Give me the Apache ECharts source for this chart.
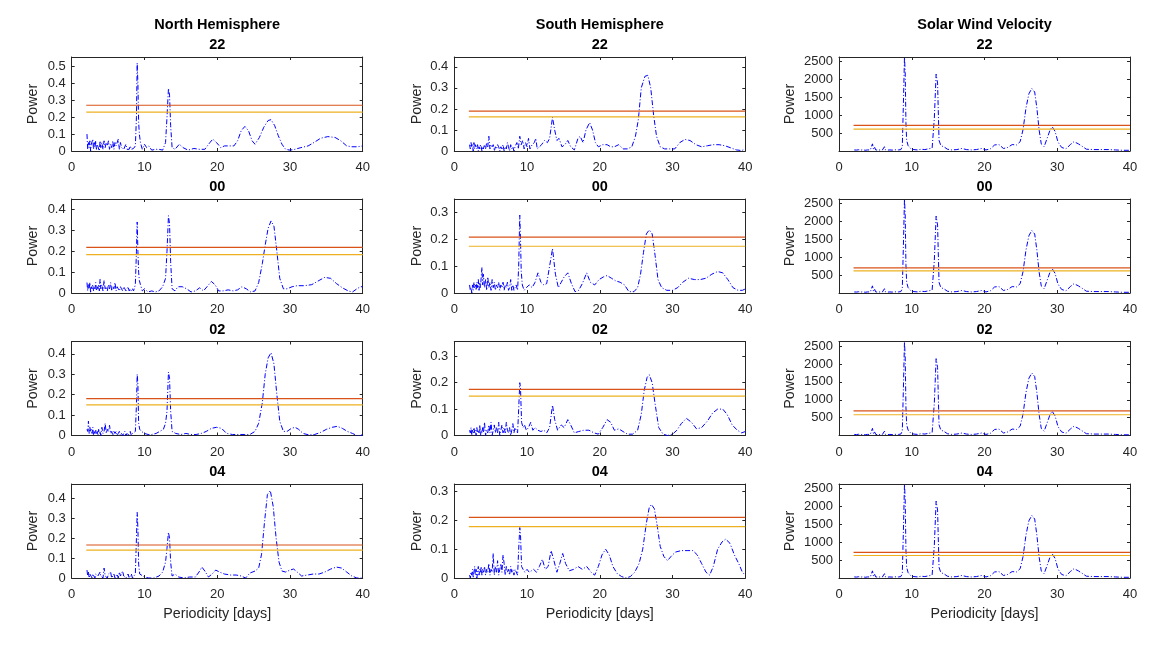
<!DOCTYPE html>
<html>
<head>
<meta charset="utf-8">
<script src="https://cdn.jsdelivr.net/npm/echarts@6/dist/echarts.min.js"></script>
<style>
  html, body { margin: 0; background: #fff; }
  #chart { width: 1173px; height: 650px; }
</style>
</head>
<body>
<div id="chart"></div>
<script>
// periods for the dense short-period part of every periodogram
const noisePeriods = [2.1, 2.2, 2.3, 2.4, 2.5, 2.6, 2.7, 2.8, 2.9, 3.0, 3.1, 3.2, 3.3, 3.4, 3.5, 3.6, 3.7, 3.8, 3.9, 4.0,
  4.15, 4.3, 4.45, 4.6, 4.75, 4.9, 5.05, 5.2, 5.35, 5.5, 5.65, 5.8, 5.95, 6.1, 6.25, 6.4, 6.55, 6.7, 6.85, 7.0,
  7.15, 7.3, 7.45, 7.6, 7.75, 7.9, 8.05, 8.2, 8.35];

const rowTitles = ['22', '00', '02', '04'];
const columnTitles = ['North Hemisphere', 'South Hemisphere', 'Solar Wind Velocity'];

// North hemisphere
const northNoise22 = [0.10,0.01,0.05,0.02,0.06,0.00,0.04,0.03,0.07,0.01,0.05,0.02,0.06,0.01,0.04,0.03,0.05,0.00,0.06,0.02,
  0.05,0.01,0.06,0.02,0.05,0.03,0.06,0.01,0.04,0.02,0.06,0.01,0.05,0.03,0.02,0.07,0.01,0.05,0.02,0.03,
  0.01,0.02,0.04,0.01,0.02,0.01,0.03,0.01,0.02];
const northTail22 = [[8.5,0.015],[8.75,0.03],[8.9,0.2],[9.0,0.52],[9.1,0.4],[9.2,0.17],[9.3,0.1],[9.45,0.05],[9.7,0.01],[10.0,0.04],
  [10.3,0.02],[10.6,0.03],[11,0.005],[11.5,0.01],[12,0.01],[12.5,0.005],[12.9,0.05],[13.1,0.2],[13.3,0.37],[13.45,0.33],
  [13.6,0.15],[13.8,0.02],[14.2,0.01],[14.8,0.04],[15.3,0.02],[16,0.005],[16.8,0.015],[17.5,0.01],[18.3,0.01],[19,0.05],
  [19.4,0.07],[19.9,0.05],[20.5,0.02],[21,0.03],[21.6,0.03],[22.3,0.03],[22.8,0.06],[23.3,0.12],[23.8,0.145],[24.3,0.12],
  [24.8,0.06],[25.2,0.04],[25.8,0.08],[26.4,0.14],[27.0,0.18],[27.4,0.185],[27.9,0.15],[28.4,0.09],[28.9,0.04],[29.4,0.01],
  [30,0.005],[30.7,0.01],[31.5,0.02],[32.5,0.03],[33.3,0.05],[34.2,0.075],[35.2,0.085],[36.2,0.08],[37,0.06],[37.8,0.03],
  [38.5,0.025],[39.3,0.025],[40,0.03]];
const northNoise00 = [0.05,0.01,0.04,0.02,0.05,0.00,0.03,0.02,0.04,0.01,0.03,0.02,0.05,0.01,0.03,0.02,0.04,0.01,0.065,0.02,
  0.04,0.01,0.06,0.02,0.03,0.01,0.04,0.02,0.05,0.01,0.03,0.02,0.05,0.01,0.03,0.02,0.01,0.03,0.02,0.01,
  0.03,0.02,0.01,0.02,0.03,0.01,0.02,0.01,0.02];
const northTail00 = [[8.5,0.01],[8.75,0.04],[8.9,0.2],[9.0,0.34],[9.1,0.2],[9.2,0.1],[9.3,0.06],[9.45,0.04],[9.7,0.01],[10.0,0.02],
  [10.5,0.005],[11,0.01],[11.5,0.005],[12,0.01],[12.5,0.03],[12.9,0.07],[13.1,0.2],[13.3,0.37],[13.45,0.33],[13.6,0.15],
  [13.8,0.02],[14.2,0.01],[14.6,0.03],[15.2,0.03],[15.8,0.02],[16.4,0.005],[17.0,0.01],[17.6,0.025],[18.1,0.01],[18.6,0.03],
  [19.2,0.055],[19.7,0.04],[20.2,0.01],[20.8,0.01],[21.5,0.015],[22.2,0.01],[22.8,0.015],[23.4,0.03],[24.0,0.02],[24.6,0.005],
  [25.2,0.01],[25.7,0.05],[26.2,0.14],[26.6,0.23],[27.0,0.31],[27.4,0.345],[27.8,0.32],[28.2,0.2],[28.6,0.07],[29.1,0.02],
  [29.6,0.02],[30.3,0.03],[31.0,0.035],[32.0,0.035],[33.0,0.04],[34.0,0.06],[34.8,0.075],[35.6,0.07],[36.4,0.045],[37.2,0.025],
  [38.0,0.01],[38.6,0.005],[39.2,0.02],[39.7,0.03],[40,0.03]];
const northNoise02 = [0.03,0.02,0.07,0.01,0.04,0.02,0.03,0.01,0.04,0.00,0.02,0.01,0.03,0.01,0.02,0.00,0.03,0.01,0.02,0.00,
  0.04,0.01,0.02,0.06,0.01,0.03,0.02,0.05,0.01,0.02,0.00,0.02,0.01,0.02,0.00,0.01,0.02,0.00,0.01,0.00,
  0.01,0.02,0.00,0.01,0.00,0.01,0.02,0.00,0.01];
const northTail02 = [[8.5,0.01],[8.75,0.02],[8.9,0.15],[9.0,0.3],[9.1,0.25],[9.2,0.06],[9.35,0.03],[9.6,0.02],[10.0,0.01],[10.5,0.005],
  [11.0,0.005],[11.6,0.01],[12.1,0.02],[12.6,0.03],[12.9,0.06],[13.1,0.12],[13.3,0.31],[13.45,0.28],[13.6,0.12],[13.8,0.02],
  [14.3,0.01],[15.0,0.005],[15.7,0.01],[16.4,0.005],[17.1,0.005],[17.8,0.01],[18.5,0.02],[19.2,0.035],[19.9,0.04],[20.6,0.035],
  [21.3,0.01],[22.1,0.005],[22.9,0.005],[23.7,0.005],[24.5,0.005],[25.2,0.02],[25.7,0.06],[26.2,0.16],[26.6,0.3],[27.0,0.38],
  [27.4,0.405],[27.8,0.35],[28.2,0.2],[28.6,0.07],[29.1,0.02],[29.6,0.02],[30.2,0.035],[30.7,0.04],[31.2,0.03],[31.8,0.01],
  [32.6,0.003],[33.4,0.005],[34.2,0.015],[35.0,0.03],[35.8,0.04],[36.5,0.045],[37.2,0.035],[37.9,0.02],[38.6,0.01],[39.2,0.0],
  [39.7,0.0],[40,0.005]];
const northNoise04 = [0.04,0.01,0.03,0.00,0.02,0.01,0.03,0.00,0.02,0.01,0.03,0.00,0.02,0.01,0.03,0.01,0.02,0.00,0.03,0.01,
  0.02,0.00,0.05,0.01,0.02,0.00,0.02,0.01,0.03,0.00,0.01,0.02,0.00,0.01,0.02,0.00,0.03,0.01,0.02,0.035,
  0.01,0.02,0.00,0.01,0.02,0.00,0.01,0.02,0.00];
const northTail04 = [[8.5,0.01],[8.75,0.02],[8.9,0.2],[9.0,0.33],[9.1,0.25],[9.2,0.07],[9.35,0.02],[9.6,0.01],[10.0,0.005],[10.6,0.0],
  [11.3,0.0],[12.0,0.01],[12.5,0.03],[12.9,0.08],[13.1,0.15],[13.3,0.23],[13.45,0.2],[13.6,0.08],[13.8,0.01],[14.2,0.02],
  [14.7,0.005],[15.4,0.0],[16.2,0.005],[17.0,0.005],[17.5,0.03],[17.9,0.055],[18.3,0.035],[18.8,0.005],[19.3,0.02],[19.8,0.04],
  [20.3,0.03],[21.0,0.02],[21.8,0.015],[22.6,0.015],[23.3,0.01],[23.9,0.0],[24.5,0.025],[25.2,0.035],[25.7,0.05],[26.1,0.12],
  [26.5,0.28],[26.9,0.42],[27.3,0.44],[27.7,0.36],[28.1,0.2],[28.5,0.08],[28.9,0.035],[29.4,0.03],[30.0,0.04],[30.5,0.045],
  [31.0,0.03],[31.6,0.01],[32.4,0.015],[33.2,0.02],[34.0,0.02],[34.8,0.03],[35.6,0.045],[36.4,0.055],[37.1,0.05],[37.8,0.03],
  [38.5,0.01],[39.2,0.0],[39.7,0.0],[40,0.0]];

// South hemisphere
const southNoise22 = [0.03,0.01,0.04,0.02,0.03,0.00,0.04,0.01,0.03,0.02,0.01,0.03,0.00,0.02,0.01,0.03,0.02,0.00,0.02,0.01,
  0.03,0.01,0.04,0.02,0.07,0.01,0.03,0.02,0.03,0.00,0.02,0.01,0.03,0.02,0.00,0.02,0.01,0.03,0.00,0.02,
  0.01,0.04,0.02,0.00,0.03,0.01,0.02,0.00,0.02];
const southTail22 = [[8.6,0.04],[8.8,0.01],[9.0,0.07],[9.2,0.03],[9.4,0.05],[9.6,0.01],[9.8,0.04],[10.0,0.02],[10.2,0.06],[10.4,0.01],
  [10.7,0.03],[11.0,0.04],[11.2,0.06],[11.4,0.01],[11.7,0.02],[12.0,0.03],[12.4,0.05],[12.8,0.04],[13.1,0.06],[13.5,0.16],
  [13.8,0.1],[14.1,0.05],[14.4,0.06],[14.8,0.02],[15.2,0.03],[15.6,0.05],[16.0,0.02],[16.5,0.005],[17.0,0.06],[17.3,0.07],
  [17.7,0.04],[18.1,0.1],[18.6,0.135],[19.0,0.1],[19.4,0.04],[19.8,0.02],[20.4,0.03],[21.0,0.03],[21.5,0.02],[22.0,0.02],
  [22.6,0.03],[23.2,0.01],[23.8,0.01],[24.4,0.02],[24.9,0.07],[25.3,0.15],[25.7,0.3],[26.2,0.355],[26.6,0.36],[27.0,0.3],
  [27.4,0.17],[27.8,0.07],[28.3,0.02],[28.9,0.01],[29.6,0.01],[30.3,0.01],[31.0,0.04],[31.7,0.055],[32.4,0.05],[33.2,0.03],
  [34.0,0.02],[34.8,0.025],[35.6,0.03],[36.4,0.03],[37.2,0.025],[38.0,0.015],[38.8,0.005],[39.5,0.002],[40,0.01]];
const southNoise00 = [0.03,0.01,0.02,0.00,0.03,0.01,0.04,0.02,0.03,0.01,0.04,0.02,0.05,0.01,0.04,0.02,0.06,0.095,0.03,0.07,
  0.02,0.05,0.01,0.06,0.02,0.04,0.01,0.05,0.02,0.04,0.01,0.03,0.02,0.04,0.01,0.03,0.02,0.04,0.01,0.03,
  0.02,0.04,0.01,0.02,0.05,0.01,0.03,0.01,0.02];
const southTail00 = [[8.5,0.03],[8.7,0.01],[8.85,0.1],[9.0,0.29],[9.1,0.2],[9.2,0.08],[9.35,0.03],[9.6,0.01],[9.9,0.02],[10.3,0.03],
  [10.7,0.02],[11.1,0.04],[11.5,0.075],[11.9,0.04],[12.3,0.03],[12.7,0.035],[13.1,0.1],[13.5,0.165],[13.9,0.07],[14.3,0.02],
  [14.7,0.04],[15.1,0.06],[15.6,0.075],[16.1,0.035],[16.6,0.005],[17.1,0.01],[17.6,0.035],[18.2,0.075],[18.7,0.04],[19.3,0.03],
  [19.9,0.05],[20.5,0.06],[21.0,0.065],[21.6,0.055],[22.2,0.045],[22.8,0.04],[23.4,0.03],[24.0,0.005],[24.7,0.005],[25.2,0.02],
  [25.6,0.07],[26.0,0.15],[26.4,0.22],[26.8,0.235],[27.2,0.22],[27.6,0.14],[28.0,0.05],[28.5,0.02],[29.2,0.01],[30.0,0.01],
  [30.7,0.02],[31.4,0.04],[32.2,0.055],[33.0,0.05],[33.8,0.05],[34.6,0.055],[35.4,0.07],[36.2,0.08],[36.9,0.075],[37.6,0.05],
  [38.3,0.02],[39.0,0.01],[39.6,0.01],[40,0.015]];
const southNoise02 = [0.02,0.01,0.03,0.00,0.02,0.01,0.03,0.01,0.02,0.00,0.03,0.01,0.02,0.01,0.04,0.00,0.02,0.01,0.03,0.01,
  0.05,0.00,0.02,0.01,0.04,0.01,0.05,0.00,0.02,0.04,0.01,0.03,0.01,0.05,0.00,0.02,0.04,0.01,0.03,0.01,
  0.05,0.02,0.01,0.03,0.00,0.02,0.045,0.01,0.03];
const southTail02 = [[8.5,0.02],[8.7,0.01],[8.85,0.1],[9.0,0.2],[9.1,0.18],[9.25,0.05],[9.45,0.03],[9.65,0.04],[9.9,0.02],[10.2,0.03],
  [10.5,0.05],[10.8,0.02],[11.1,0.03],[11.5,0.02],[11.9,0.015],[12.3,0.02],[12.7,0.01],[13.1,0.03],[13.5,0.115],[13.8,0.06],
  [14.2,0.02],[14.7,0.04],[15.1,0.03],[15.6,0.06],[16.0,0.04],[16.5,0.01],[17.1,0.015],[17.8,0.02],[18.5,0.02],[19.2,0.01],
  [19.8,0.005],[20.4,0.03],[21.0,0.06],[21.5,0.05],[22.0,0.02],[22.6,0.025],[23.2,0.015],[23.8,0.005],[24.5,0.005],[25.2,0.02],
  [25.7,0.08],[26.1,0.17],[26.5,0.22],[26.8,0.23],[27.2,0.2],[27.6,0.12],[28.1,0.03],[28.7,0.005],[29.3,0.0],[30.0,0.005],
  [30.6,0.02],[31.2,0.045],[31.9,0.065],[32.6,0.05],[33.3,0.025],[34.0,0.03],[34.8,0.055],[35.5,0.085],[36.2,0.1],[36.9,0.1],
  [37.5,0.08],[38.2,0.04],[38.9,0.02],[39.5,0.01],[40,0.015]];
const southNoise04 = [0.01,0.00,0.02,0.01,0.03,0.00,0.02,0.04,0.01,0.03,0.00,0.02,0.04,0.01,0.03,0.02,0.04,0.01,0.03,0.02,
  0.04,0.01,0.03,0.02,0.05,0.01,0.03,0.02,0.085,0.01,0.04,0.02,0.06,0.01,0.03,0.05,0.02,0.08,0.05,0.01,
  0.04,0.02,0.03,0.01,0.04,0.02,0.03,0.01,0.03];
const southTail04 = [[8.5,0.03],[8.7,0.01],[8.85,0.1],[9.0,0.175],[9.1,0.15],[9.25,0.04],[9.45,0.03],[9.7,0.02],[10.0,0.03],[10.3,0.02],
  [10.6,0.025],[10.9,0.03],[11.3,0.02],[11.7,0.04],[12.1,0.065],[12.5,0.03],[12.9,0.04],[13.3,0.095],[13.7,0.06],[14.1,0.02],
  [14.5,0.05],[14.9,0.085],[15.3,0.05],[15.8,0.025],[16.4,0.03],[17.0,0.04],[17.6,0.03],[18.2,0.04],[18.8,0.02],[19.3,0.01],
  [19.8,0.04],[20.3,0.08],[20.8,0.1],[21.3,0.08],[21.8,0.04],[22.4,0.015],[23.0,0.005],[23.6,0.0],[24.2,0.005],[24.8,0.02],
  [25.4,0.05],[25.9,0.1],[26.4,0.19],[26.8,0.245],[27.1,0.255],[27.5,0.24],[27.9,0.18],[28.3,0.11],[28.8,0.075],[29.3,0.06],
  [29.8,0.075],[30.4,0.09],[31.2,0.095],[32.0,0.095],[32.8,0.095],[33.4,0.08],[34.0,0.05],[34.6,0.02],[35.1,0.01],[35.6,0.04],
  [36.2,0.1],[36.8,0.125],[37.3,0.135],[37.9,0.12],[38.5,0.08],[39.1,0.05],[39.6,0.02],[40,0.01]];

// Solar wind velocity (same periodogram in every row)
const windNoise = [30,20,40,25,30,20,35,20,40,25,30,20,35,25,30,20,40,25,30,20,
  45,30,60,200,40,100,30,50,25,40,30,60,25,40,120,30,50,25,40,30,
  50,25,40,30,50,35,40,30,40];
const windTail = [[8.5,40],[8.7,120],[8.85,1300],[9.0,2620],[9.1,2200],[9.2,800],[9.3,300],[9.5,150],[9.7,200],[9.9,60],
  [10.3,40],[10.8,30],[11.3,50],[11.8,40],[12.3,60],[12.8,80],[13.1,900],[13.35,2150],[13.55,1900],[13.75,300],
  [14.0,150],[14.4,120],[14.9,50],[15.5,30],[16.2,40],[16.9,70],[17.5,40],[18.2,30],[18.9,40],[19.6,70],
  [20.2,30],[20.8,60],[21.4,170],[22.0,180],[22.6,70],[23.2,100],[23.8,180],[24.4,170],[24.9,260],[25.3,600],
  [25.7,1200],[26.1,1600],[26.5,1750],[26.9,1650],[27.2,1200],[27.5,600],[27.8,200],[28.2,120],[28.6,350],[29.0,580],
  [29.3,680],[29.7,550],[30.1,250],[30.6,100],[31.2,60],[31.8,180],[32.3,260],[32.9,200],[33.5,120],[34.0,50],
  [35,40],[36,40],[37,40],[38,30],[39,20],[40,20]];

// significance levels [upper, lower] per row
const northThresholds = [[0.27, 0.23], [0.218, 0.184], [0.18, 0.15], [0.166, 0.14]];
const southThresholds = [[0.19, 0.162], [0.208, 0.174], [0.175, 0.149], [0.21, 0.178]];
const windThresholds = [[715, 610], [705, 620], [690, 580], [715, 630]];
const thresholdStart = 2;
const thresholdEnd = 40;

const northYMax = [0.555, 0.45, 0.46, 0.473];
const southYMax = [0.447, 0.35, 0.356, 0.326];
const windYMax = [2630, 2630, 2630, 2630];

function joinSeries(noise, tail) {
  return noisePeriods.map(function (p, i) { return [p, noise[i]]; }).concat(tail);
}

const panelData = [
  [joinSeries(northNoise22, northTail22), joinSeries(southNoise22, southTail22), joinSeries(windNoise, windTail)],
  [joinSeries(northNoise00, northTail00), joinSeries(southNoise00, southTail00), joinSeries(windNoise, windTail)],
  [joinSeries(northNoise02, northTail02), joinSeries(southNoise02, southTail02), joinSeries(windNoise, windTail)],
  [joinSeries(northNoise04, northTail04), joinSeries(southNoise04, southTail04), joinSeries(windNoise, windTail)]
];
const panelThresholds = [northThresholds, southThresholds, windThresholds];
const panelYMax = [northYMax, southYMax, windYMax];
const panelInterval = [0.1, 0.1, 500];

const gridLeft = [71.7, 454.3, 839];
const gridWidth = 291;
const gridTop = [57, 199, 341.5, 484];
const gridHeight = 94;
const yNameGap = [32, 30, 42];

const font = 'Liberation Sans, Arial, Helvetica, sans-serif';
const axisColor = '#262626';
const thresholdColors = ['#D95319', '#EDB120'];

let grids = [], xAxes = [], yAxes = [], series = [], titles = [];

for (let r = 0; r < 4; r++) {
  for (let c = 0; c < 3; c++) {
    let k = r * 3 + c;
    grids.push({ left: gridLeft[c], top: gridTop[r], width: gridWidth, height: gridHeight });

    titles.push({
      text: r === 0 ? columnTitles[c] + '\n' + rowTitles[r] : rowTitles[r],
      left: gridLeft[c] + gridWidth / 2,
      top: r === 0 ? 15 : gridTop[r] - 22,
      textAlign: 'center',
      padding: 0,
      textStyle: { fontFamily: font, fontSize: 14.5, fontWeight: 'bold', color: '#000', lineHeight: 20 }
    });

    let lineStyle = { color: axisColor, width: 1 };
    let baseX = {
      gridIndex: k, type: 'value', min: 0, max: 40, interval: 10,
      axisLine: { show: true, onZero: false, lineStyle: lineStyle },
      axisTick: { show: true, inside: true, length: 3, lineStyle: lineStyle },
      splitLine: { show: false }
    };
    xAxes.push(Object.assign({}, baseX, {
      position: 'bottom',
      axisLabel: { margin: 10, fontSize: 13, color: axisColor, fontFamily: font },
      name: r === 3 ? 'Periodicity [days]' : '',
      nameLocation: 'middle', nameGap: 29,
      nameTextStyle: { fontSize: 14.3, color: axisColor, fontFamily: font }
    }));
    xAxes.push(Object.assign({}, baseX, { position: 'top', axisLabel: { show: false } }));

    let baseY = {
      gridIndex: k, type: 'value', min: 0, max: panelYMax[c][r], interval: panelInterval[c],
      axisLine: { show: true, onZero: false, lineStyle: lineStyle },
      axisTick: { show: true, inside: true, length: 3, lineStyle: lineStyle },
      splitLine: { show: false }
    };
    yAxes.push(Object.assign({}, baseY, {
      position: 'left',
      axisLabel: {
        margin: 6, fontSize: 13, color: axisColor, fontFamily: font, showMaxLabel: false,
        formatter: function (v) {
          if (c === 2) return v === 0 ? '' : String(v);
          return String(Math.round(v * 10) / 10);
        }
      },
      name: 'Power', nameLocation: 'middle', nameGap: yNameGap[c],
      nameTextStyle: { fontSize: 14.3, color: axisColor, fontFamily: font }
    }));
    yAxes.push(Object.assign({}, baseY, { position: 'right', axisLabel: { show: false } }));

    series.push({
      type: 'line', xAxisIndex: 2 * k, yAxisIndex: 2 * k,
      data: panelData[r][c], symbol: 'none', clip: true,
      lineStyle: { color: '#0000FF', width: 1, type: [5, 2, 1, 2] },
      z: 2
    });
    panelThresholds[c][r].forEach(function (level, i) {
      series.push({
        type: 'line', xAxisIndex: 2 * k, yAxisIndex: 2 * k,
        data: [[thresholdStart, level], [thresholdEnd, level]], symbol: 'none',
        lineStyle: { color: thresholdColors[i], width: 1.2 },
        z: 3
      });
    });
  }
}

let chart = echarts.init(document.getElementById('chart'));
chart.setOption({
  backgroundColor: '#fff',
  animation: false,
  title: titles,
  grid: grids,
  xAxis: xAxes,
  yAxis: yAxes,
  series: series
});
</script>
</body>
</html>
